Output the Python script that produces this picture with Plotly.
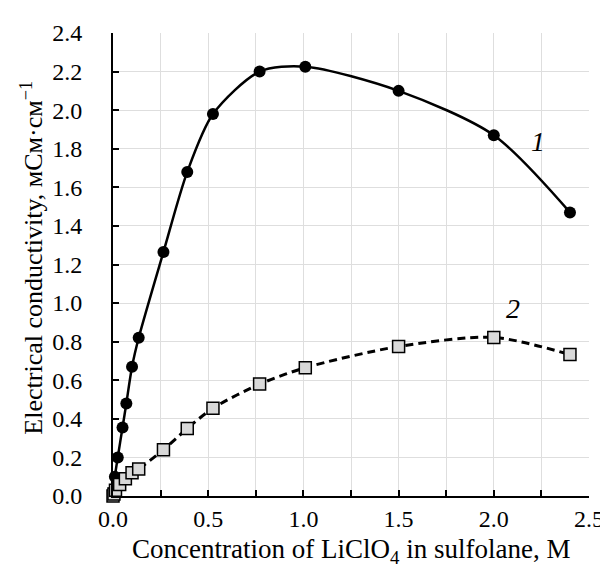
import plotly.graph_objects as go

# Curve 1 (circles, solid)
x1 = [0.0, 0.005, 0.01, 0.025, 0.05, 0.07, 0.1, 0.135, 0.265, 0.39, 0.525, 0.77, 1.01, 1.5, 2.0, 2.4]
y1 = [0.0, 0.03, 0.10, 0.20, 0.355, 0.48, 0.67, 0.82, 1.265, 1.68, 1.98, 2.20, 2.225, 2.10, 1.87, 1.47]

# Curve 2 (squares, dashed)
x2 = [0.0, 0.005, 0.013, 0.035, 0.065, 0.1, 0.135, 0.265, 0.39, 0.525, 0.77, 1.01, 1.5, 2.0, 2.4]
y2 = [0.0, 0.01, 0.03, 0.06, 0.09, 0.12, 0.14, 0.24, 0.35, 0.455, 0.58, 0.665, 0.775, 0.822, 0.733]

labels = ["1", "2"]
label_x = [2.23, 2.10]
label_y = [1.84, 0.97]

x_title = "Concentration of LiClO<sub>4</sub> in sulfolane, M"
y_title = "Electrical conductivity, мСм·см<sup>−1</sup>"

FONT = "Liberation Serif, Times New Roman, serif"

fig = go.Figure()
fig.add_trace(go.Scatter(
    x=x1, y=y1, mode="lines+markers",
    line=dict(color="black", width=2.5, shape="spline", smoothing=0.8),
    marker=dict(symbol="circle", size=12, color="black"),
    cliponaxis=False, showlegend=False))
fig.add_trace(go.Scatter(
    x=x2, y=y2, mode="lines+markers",
    line=dict(color="black", width=3, dash="8px,5px", shape="spline", smoothing=0.8),
    marker=dict(symbol="square", size=12, color="#d9d9d9", line=dict(color="black", width=1.5)),
    cliponaxis=False, showlegend=False))

for t, lx, ly in zip(labels, label_x, label_y):
    fig.add_annotation(x=lx, y=ly, text="<i>" + t + "</i>", showarrow=False,
                       font=dict(family=FONT, size=28, color="black"))

# axis titles as annotations for precise placement
fig.add_annotation(xref="paper", yref="paper", x=0.5, y=-0.118, text=x_title,
                   showarrow=False, xanchor="center", yanchor="middle",
                   font=dict(family=FONT, size=27, color="black"))
fig.add_annotation(xref="paper", yref="paper", x=-0.17, y=0.515, text=y_title,
                   showarrow=False, xanchor="center", yanchor="middle", textangle=-90,
                   font=dict(family=FONT, size=26, color="black"))

NB = "\u00a0"

fig.update_layout(
    width=608, height=565,
    margin=dict(l=105, r=21, t=22, b=77),
    paper_bgcolor="white", plot_bgcolor="white",
    font=dict(family=FONT, size=24, color="black"),
    xaxis=dict(
        range=[0, 2.5], dtick=0.5, tick0=0, tickformat=".1f",
        showline=True, linecolor="black", linewidth=2,
        ticks="inside", ticklen=6, tickwidth=1.5, tickcolor="black",
        showgrid=True, gridcolor="#dedede", gridwidth=1,
        minor=dict(dtick=0.25, ticks="inside", ticklen=6, tickwidth=1.5, tickcolor="black",
                   showgrid=True, gridcolor="#dedede", gridwidth=1),
        zeroline=False, mirror=False,
        tickfont=dict(family=FONT, size=24),
    ),
    yaxis=dict(
        range=[0, 2.4], dtick=0.2, tick0=0, tickformat=".1f",
        ticksuffix=NB * 4,
        showline=True, linecolor="black", linewidth=2,
        ticks="inside", ticklen=6, tickwidth=1.5, tickcolor="black",
        showgrid=True, gridcolor="#dedede", gridwidth=1,
        zeroline=False, mirror=False,
        tickfont=dict(family=FONT, size=24),
    ),
)

fig.write_html("out.html")
